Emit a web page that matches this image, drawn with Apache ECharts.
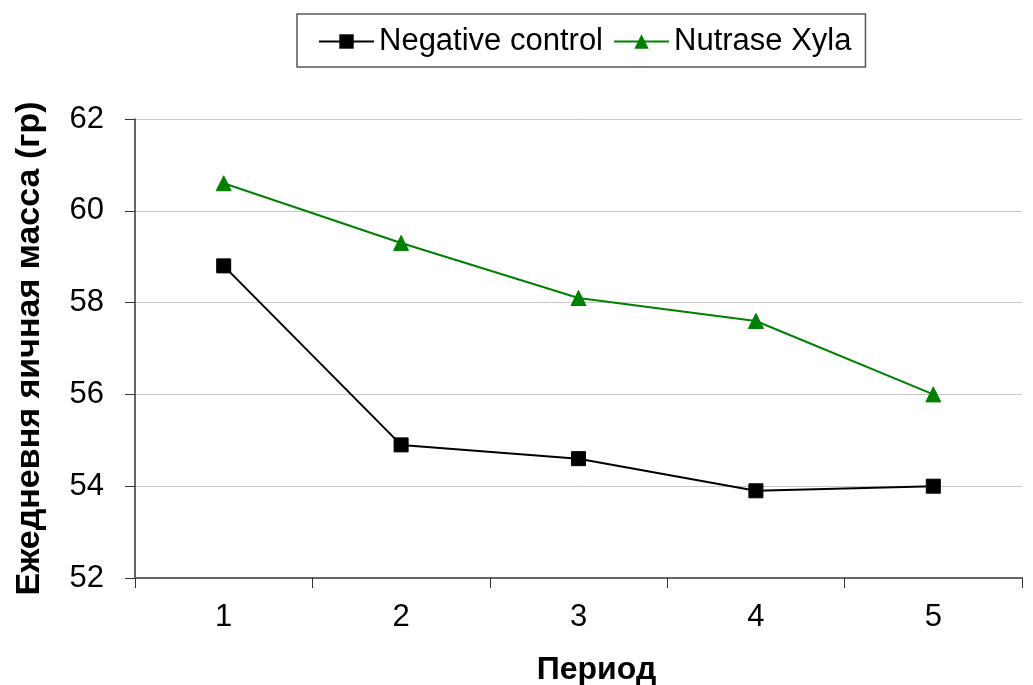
<!DOCTYPE html>
<html><head><meta charset="utf-8">
<script src="https://cdn.jsdelivr.net/npm/echarts@6/dist/echarts.min.js"></script>
<style>html,body{margin:0;padding:0;background:#fff}#c{width:1033px;height:685px}</style>
</head><body><div id="c"></div>
<script>
const categories = ['1','2','3','4','5'];
const negativeControl = [58.8, 54.9, 54.6, 53.9, 54.0];
const nutraseXyla = [60.6, 59.3, 58.1, 57.6, 56.0];
const seriesNames = ['Negative control', 'Nutrase Xyla'];
const yAxisTitle = 'Ежедневня яичная масса (гр)';
const xAxisTitle = 'Период';

const font = 'Liberation Sans, Arial, sans-serif';
const chart = echarts.init(document.getElementById('c'), null, {renderer:'canvas'});
chart.setOption({
  animation: false,
  backgroundColor: '#fff',
  grid: {left: 135, right: 11, top: 119, bottom: 107, containLabel: false, outerBoundsMode: 'none'},
  legend: {
    top: 14, left: 297,
    padding: [12, 14, 10, 21],
    borderColor: '#555', borderWidth: 1.5, borderRadius: 0,
    itemWidth: 55, itemHeight: 18, itemGap: 10,
    textStyle: {fontFamily: font, fontSize: 31, color: '#000', padding: [3,0,0,0]},
    data: seriesNames
  },
  xAxis: {
    type: 'category', data: categories, boundaryGap: true,
    name: xAxisTitle, nameLocation: 'middle', nameGap: 76,
    nameTextStyle: {fontFamily: font, fontSize: 32, fontWeight: 'bold', color: '#000', padding: [0,0,0,36]},
    axisLine: {lineStyle: {color: '#666', width: 2}},
    axisTick: {show: true, length: 10, inside: false, alignWithLabel: false, lineStyle: {color: '#333', width: 1}},
    axisLabel: {fontFamily: font, fontSize: 31, color: '#000', margin: 24},
    splitLine: {show: false}
  },
  yAxis: {
    type: 'value', min: 52, max: 62, interval: 2,
    name: yAxisTitle, nameLocation: 'middle', nameGap: 88,
    nameTextStyle: {fontFamily: font, fontSize: 34, fontWeight: 'bold', color: '#000'},
    axisLine: {show: true, lineStyle: {color: '#333', width: 1.5}},
    axisTick: {show: true, length: 10, inside: false, lineStyle: {color: '#333', width: 1}},
    axisLabel: {fontFamily: font, fontSize: 31, color: '#000', margin: 31},
    splitLine: {show: true, lineStyle: {color: '#c8c8c8', width: 1}}
  },
  series: [
    {
      name: seriesNames[0], type: 'line', data: negativeControl,
      symbol: 'rect', symbolSize: 14,
      lineStyle: {color: '#000', width: 2},
      itemStyle: {color: '#000', borderColor: '#000'}
    },
    {
      name: seriesNames[1], type: 'line', data: nutraseXyla,
      symbol: 'triangle', symbolSize: 15,
      lineStyle: {color: '#008000', width: 2},
      itemStyle: {color: '#008000', borderColor: '#008000'}
    }
  ]
});
</script></body></html>
